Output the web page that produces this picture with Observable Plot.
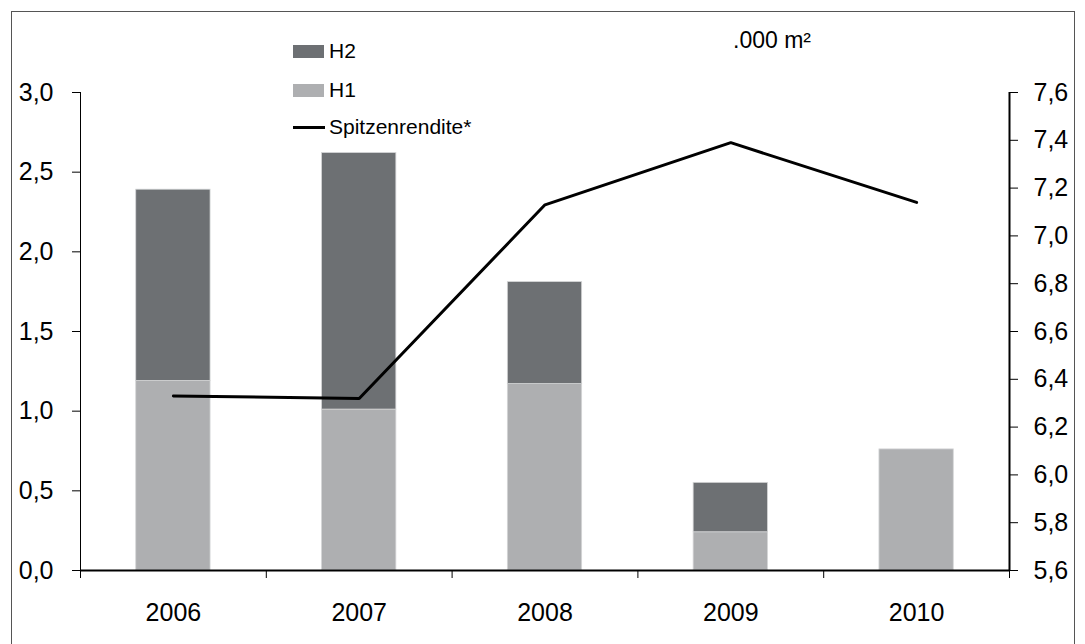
<!DOCTYPE html>
<html>
<head>
<meta charset="utf-8">
<script src="https://cdn.jsdelivr.net/npm/d3@7"></script>
<script src="https://cdn.jsdelivr.net/npm/@observablehq/plot@0.6"></script>
<style>
  html, body { margin: 0; padding: 0; background: #fff; overflow: hidden; }
  #wrap { position: relative; width: 1085px; height: 644px; overflow: hidden; font-family: "Liberation Sans", Arial, sans-serif; color: #000; }
  #frame { position: absolute; left: 11px; top: 11px; width: 1064px; height: 640px; border: 1px solid #555; border-bottom: none; box-sizing: border-box; pointer-events: none; }
  #chart { position: absolute; left: 0; top: 0; }
  #title { position: absolute; left: 672px; width: 200px; top: 26px; text-align: center; font-size: 23px; line-height: 29px; }
  .leg { position: absolute; left: 293px; display: flex; align-items: center; font-size: 21px; line-height: 24px; height: 24px; }
  .sw { width: 31px; height: 13px; margin-right: 5px; }
  .ln { width: 32px; height: 3px; background: #000; margin-right: 4px; }
</style>
</head>
<body>
<div id="wrap">
  <div id="chart"></div>
  <div id="title">.000 m²</div>
  <div class="leg" style="top:39px"><div class="sw" style="background:#6d7073"></div><span>H2</span></div>
  <div class="leg" style="top:78px"><div class="sw" style="background:#aeafb1"></div><span>H1</span></div>
  <div class="leg" style="top:115px"><div class="ln"></div><span>Spitzenrendite*</span></div>
  <div id="frame"></div>
</div>
<script>
// ---- data ----
const years = ["2006", "2007", "2008", "2009", "2010"];
const h1 = [1.19, 1.01, 1.17, 0.24, 0.76];
const h2 = [1.20, 1.61, 0.64, 0.31, 0.00];
const spitzenrendite = [6.33, 6.32, 7.13, 7.39, 7.14];
const leftTicks = [0, 0.5, 1.0, 1.5, 2.0, 2.5, 3.0];
const rightTicks = [5.6, 5.8, 6.0, 6.2, 6.4, 6.6, 6.8, 7.0, 7.2, 7.4, 7.6];

const colors = {H1: "#aeafb1", H2: "#6d7073"};
const rightMin = 5.6, rightMax = 7.6, leftMax = 3.0;
const k = leftMax / (rightMax - rightMin);
const toLeft = v => (v - rightMin) * k;
const fromLeft = v => v / k + rightMin;
const fmt = v => d3.format(".1f")(v).replace(".", ",");

// stacked segments
const bars = [];
years.forEach((yr, i) => {
  bars.push({i, series: "H1", y1: 0, y2: h1[i]});
  if (h2[i] > 0) bars.push({i, series: "H2", y1: h1[i], y2: h1[i] + h2[i]});
});
const lineData = years.map((yr, i) => ({i, v: spitzenrendite[i]}));
const half = 0.2; // half bar width in category units

const plot = Plot.plot({
  width: 1085,
  height: 644,
  marginLeft: 80,
  marginRight: 76,
  marginTop: 92,
  marginBottom: 74,
  x: {type: "linear", domain: [0, years.length], axis: null},
  y: {domain: [0, leftMax], axis: null},
  style: {fontFamily: '"Liberation Sans", Arial, sans-serif', fontSize: "25px", color: "#000", background: "transparent", overflow: "visible"},
  marks: [
    Plot.rectY(bars, {
      x1: d => d.i + 0.5 - half,
      x2: d => d.i + 0.5 + half,
      y1: "y1",
      y2: "y2",
      fill: d => colors[d.series],
      stroke: "#d4d5d6",
      strokeWidth: 0.8
    }),
    Plot.line(lineData, {x: d => d.i + 0.5, y: d => toLeft(d.v), stroke: "#000", strokeWidth: 3, strokeLinejoin: "miter"}),
    Plot.ruleX([0], {stroke: "#000", strokeWidth: 1}),
    Plot.ruleX([years.length], {stroke: "#000", strokeWidth: 2}),
    Plot.ruleY([0], {stroke: "#000", strokeWidth: 2}),
    Plot.axisY({anchor: "left", ticks: leftTicks, tickSize: 8, tickPadding: 19, tickFormat: fmt, label: null}),
    Plot.axisY({anchor: "right", ticks: rightTicks.map(toLeft), tickSize: 8, tickPadding: 16, tickFormat: d => fmt(fromLeft(d)), label: null}),
    Plot.axisX({ticks: d3.range(years.length + 1), tickSize: 8, tickFormat: () => "", label: null}),
    Plot.axisX({ticks: years.map((_, i) => i + 0.5), tickSize: 0, tickPadding: 33, tickFormat: d => years[Math.floor(d)], label: null})
  ]
});
document.getElementById("chart").appendChild(plot);
</script>
</body>
</html>
